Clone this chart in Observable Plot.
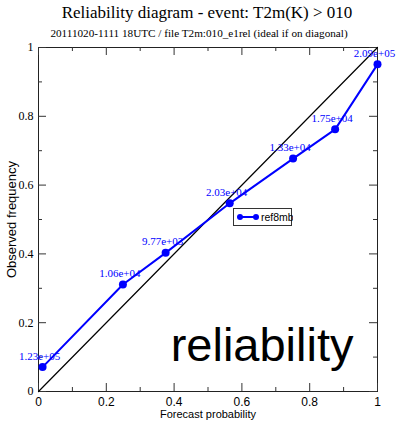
<!DOCTYPE html>
<html>
<head>
<meta charset="utf-8">
<script src="https://cdn.jsdelivr.net/npm/d3@7"></script>
<script src="https://cdn.jsdelivr.net/npm/@observablehq/plot@0.6"></script>
<style>
  html, body { margin: 0; padding: 0; background: #fff; }
  #wrap { position: relative; width: 397px; height: 425px; overflow: hidden; }
  .ttl { position: absolute; white-space: nowrap; transform: translateX(-50%); font-family: "Liberation Serif", "Times New Roman", serif; line-height: 1; color: #000; }
  #title { top: 4px; left: 207px; font-size: 17px; }
  #subtitle { top: 28px; left: 199px; font-size: 11.2px; }
  #legend { position: absolute; left: 233px; top: 208px; width: 59px; height: 18px; border: 1px solid #333; background: #fff; box-sizing: border-box; }
  #legend svg { position: absolute; left: 0; top: 0; }
</style>
</head>
<body>
<div id="wrap">
  <div id="chart"></div>
  <div class="ttl" id="title">Reliability diagram - event: T2m(K) &gt; 010</div>
  <div class="ttl" id="subtitle">20111020-1111 18UTC / file T2m:010_e1rel (ideal if on diagonal)</div>
  <div id="legend"></div>
</div>
<script>
// ---- data ----
const forecastProb = [0.012, 0.249, 0.375, 0.564, 0.751, 0.875, 1.0];
const observedFreq = [0.071, 0.311, 0.403, 0.547, 0.677, 0.762, 0.951];
const sampleCounts = ["1.23e+05", "1.06e+04", "9.77e+03", "2.03e+04", "1.33e+04", "1.75e+04", "2.09e+05"];
const seriesName = "ref8mb";
const diagonal = [0, 1];
const majorTicks = [0, 0.2, 0.4, 0.6, 0.8, 1];
const minorTicks = [0.1, 0.3, 0.5, 0.7, 0.9];
const tickLabels = ["0", "0.2", "0.4", "0.6", "0.8", "1"];
const xLabel = "Forecast probability";
const yLabel = "Observed frequency";
const stamp = "reliability";

const points = forecastProb.map((x, i) => ({x, y: observedFreq[i], n: sampleCounts[i]}));
const diag = diagonal.map(v => ({x: v, y: v}));
const fmt = d => tickLabels[majorTicks.indexOf(d)];

const W = 397, H = 425, mL = 38, mR = 20, mT = 47, mB = 34;
const fw = W - mL - mR, fh = H - mT - mB;
const BLUE = "#0000ff";
const SERIF = "'Liberation Serif', 'Times New Roman', serif";
const SANS = "'Liberation Sans', Arial, Helvetica, sans-serif";

const chart = Plot.plot({
  width: W, height: H,
  marginLeft: mL, marginRight: mR, marginTop: mT, marginBottom: mB,
  x: {domain: [0, 1], axis: null},
  y: {domain: [0, 1], axis: null},
  style: {background: "transparent", overflow: "visible"},
  marks: [
    Plot.frame({stroke: "#222", strokeWidth: 1}),
    // inward ticks, all four sides
    Plot.tickX(majorTicks, {x: d => d, insetTop: fh - 8, stroke: "#333"}),
    Plot.tickX(minorTicks, {x: d => d, insetTop: fh - 4, stroke: "#333"}),
    Plot.tickX(majorTicks, {x: d => d, insetBottom: fh - 8, stroke: "#333"}),
    Plot.tickX(minorTicks, {x: d => d, insetBottom: fh - 4, stroke: "#333"}),
    Plot.tickY(majorTicks, {y: d => d, insetRight: fw - 8, stroke: "#333"}),
    Plot.tickY(minorTicks, {y: d => d, insetRight: fw - 4, stroke: "#333"}),
    Plot.tickY(majorTicks, {y: d => d, insetLeft: fw - 8, stroke: "#333"}),
    Plot.tickY(minorTicks, {y: d => d, insetLeft: fw - 4, stroke: "#333"}),
    // tick labels
    Plot.text(majorTicks, {x: d => d, text: fmt, frameAnchor: "bottom", lineAnchor: "middle", dy: 11, fontSize: 12, fontFamily: SANS, fill: "#000"}),
    Plot.text(majorTicks, {y: d => d, text: fmt, frameAnchor: "left", textAnchor: "end", dx: -5, fontSize: 12, fontFamily: SERIF, fill: "#000"}),
    // axis titles
    Plot.text([xLabel], {text: d => d, frameAnchor: "bottom", lineAnchor: "middle", dy: 23, fontSize: 11, fontFamily: SANS, fill: "#000"}),
    Plot.text([yLabel], {text: d => d, frameAnchor: "left", textAnchor: "middle", lineAnchor: "middle", rotate: -90, dx: -27, fontSize: 13, fontFamily: SANS, fill: "#000"}),
    // diagonal
    Plot.line(diag, {x: "x", y: "y", stroke: "#000", strokeWidth: 1.2}),
    // series
    Plot.line(points, {x: "x", y: "y", stroke: BLUE, strokeWidth: 2}),
    Plot.dot(points, {x: "x", y: "y", r: 4, fill: BLUE, stroke: "none"}),
    Plot.text(points, {x: "x", y: "y", text: "n", dx: -3, dy: -11, fontSize: 11, fontFamily: SERIF, fill: BLUE}),
    // stamp
    Plot.text([stamp], {text: d => d, frameAnchor: "bottom-right", textAnchor: "end", lineAnchor: "bottom", dx: -24, dy: -31, fontSize: 47, fontFamily: SANS, fill: "#000"})
  ]
});
document.getElementById("chart").appendChild(chart);

// legend
const lg = d3.select("#legend").append("svg").attr("width", 59).attr("height", 18);
lg.append("line").attr("x1", 6).attr("x2", 22).attr("y1", 8).attr("y2", 8).attr("stroke", BLUE).attr("stroke-width", 2);
lg.selectAll("circle").data([6, 22]).join("circle").attr("cx", d => d).attr("cy", 8).attr("r", 3).attr("fill", BLUE);
lg.append("text").attr("x", 27).attr("y", 12).attr("font-family", SANS).attr("font-size", 10.5).attr("fill", "#000").text(seriesName);
</script>
</body>
</html>
